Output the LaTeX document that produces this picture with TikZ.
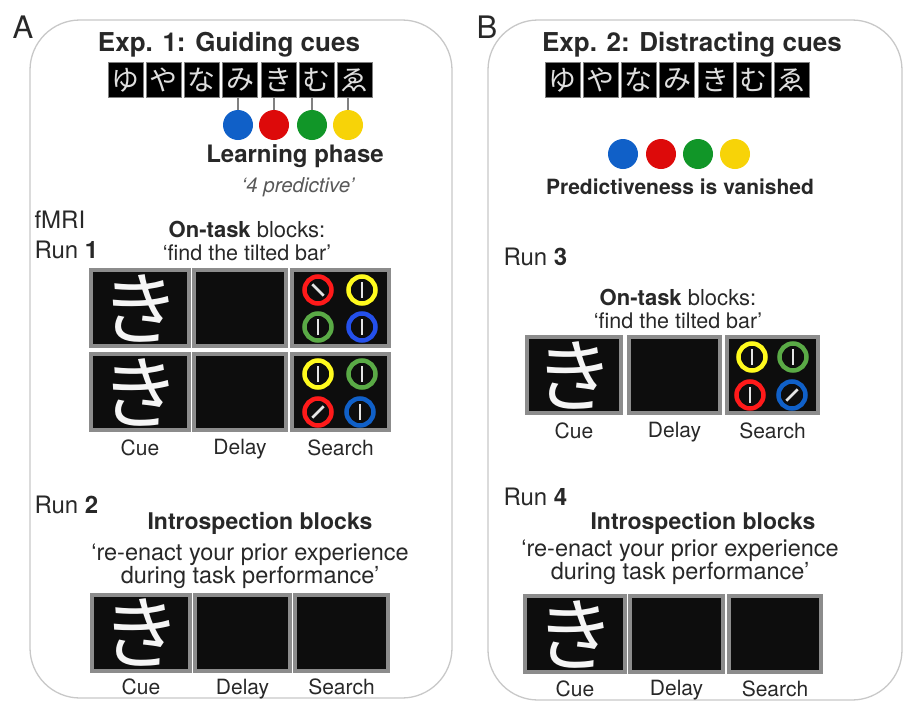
\documentclass[tikz,border=0pt]{standalone}
\usepackage{fontspec}
\setmainfont{TeX Gyre Heros}
\newfontfamily\jpfont{Noto Sans CJK JP}
\usetikzlibrary{positioning}
\definecolor{cblue}{RGB}{16,96,200}
\definecolor{cred}{RGB}{221,10,10}
\definecolor{cgreen}{RGB}{17,150,40}
\definecolor{cyellow}{RGB}{247,211,8}
\definecolor{rred}{RGB}{255,26,26}
\definecolor{ryellow}{RGB}{255,250,30}
\definecolor{rgreen}{RGB}{90,170,70}
\definecolor{rblue}{RGB}{36,80,235}
\definecolor{frame}{RGB}{140,140,140}
\definecolor{panel}{RGB}{200,200,200}
\definecolor{txt}{RGB}{40,40,40}

% one ring of the search display: x, y, colour, bar angle
\newcommand{\ring}[4]{%
  \draw[#3, line width=4.5pt] (#1,#2) circle (13.5);
  \draw[white!80!gray, line width=2.5pt] (#1,#2) ++(#4:8) -- ++(#4+180:16);
}

\begin{document}
\begin{tikzpicture}[x=1pt, y=-1pt,
    kana/.style={draw=gray, fill=black, text=white!75!gray, minimum size=35pt,
      inner sep=0pt, font=\jpfont\fontsize{28}{28}\selectfont},
    dot/.style={circle, minimum size=30pt, inner sep=0pt},
    block/.style={draw=frame, line width=4pt, fill=black!95, minimum height=76pt, inner sep=0pt},
    cuetext/.style={text=white!92!gray, font=\jpfont\fontsize{80}{80}\selectfont},
    lbl/.style={text=txt, font=\fontsize{21}{21}\selectfont},
    head/.style={text=txt, font=\fontsize{26}{26}\selectfont\bfseries}]
    \useasboundingbox (0,0) rectangle (905,702);

    % panels
    \draw[panel, line width=1.3pt, rounded corners=50pt] (30,20) rectangle (452,698);
    \draw[panel, line width=1.3pt, rounded corners=50pt] (488,20) rectangle (902,700);
    \node[text=txt, font=\fontsize{31}{31}\selectfont] (lA) at (23,27) {A};
    \node[text=txt, font=\fontsize{31}{31}\selectfont] (lB) at (487,27) {B};

    % ---- Exp. 1 ----
    \node[head] (t1) at (229,45) {Exp. 1: Guiding cues};
    \foreach \ch [count=\i] in {ゆ,や,な,み,き,む,ゑ}
        \node[kana] (ka\i) at (125.5+38.2*\i-38.2,80) {\ch};

    \node[dot, fill=cblue] (ca1) at (238,125) {};
    \node[dot, fill=cred] (ca2) at (274,125) {};
    \node[dot, fill=cgreen] (ca3) at (312,125) {};
    \node[dot, fill=cyellow] (ca4) at (348,125) {};
    \foreach \i/\j in {1/4,2/5,3/6,4/7}
        \draw[gray, line width=1.5pt] (ca\i.north) -- (ca\i.north |- ka\j.south);

    \node[text=txt, font=\fontsize{24}{24}\selectfont\bfseries] (learn) at (295,156) {Learning phase};
    \node[text=black!65, font=\fontsize{20.5}{20.5}\selectfont\itshape] (pred) at (298,187) {`4 predictive'};

    \node[text=txt, anchor=west, align=left, font=\fontsize{24}{30}\selectfont] (run1) at (31,235) {fMRI\\Run \textbf{1}};
    \node[text=txt, align=center, font=\fontsize{21.5}{23}\selectfont] (task1) at (247,241)
        {{\fontsize{22}{23}\selectfont\textbf{On-task} blocks:}\\`find the tilted bar'};

    \node[block, minimum width=98pt] (cue1) at (140,308) {};
    \node[cuetext] at (cue1) {き};
    \node[block, minimum width=92pt] (del1) at (240,308) {};
    \node[block, minimum width=97pt] (sea1) at (340.5,308) {};
    \ring{318}{290}{rred}{45}
    \ring{362}{290}{ryellow}{90}
    \ring{318}{327}{rgreen}{90}
    \ring{362}{327}{rblue}{90}

    \node[block, minimum width=98pt] (cue2) at (140,392) {};
    \node[cuetext] at (cue2) {き};
    \node[block, minimum width=92pt] (del2) at (240,392) {};
    \node[block, minimum width=97pt] (sea2) at (340.5,392) {};
    \ring{318}{374}{ryellow}{90}
    \ring{362}{374}{rgreen}{90}
    \ring{318}{412}{rred}{135}
    \ring{360}{412}{cblue}{90}

    \node[lbl, below=4pt of cue2] (lc1) {Cue};
    \node[lbl, below=4pt of del2] (ld1) {Delay};
    \node[lbl, below=4pt of sea2] (ls1) {Search};

    \node[text=txt, anchor=west, font=\fontsize{24}{24}\selectfont] (run2) at (31,505) {Run \textbf{2}};
    \node[text=txt, font=\fontsize{23}{23}\selectfont\bfseries] (intro1) at (260,523) {Introspection blocks};
    \node[text=txt, align=center, font=\fontsize{23.5}{22.5}\selectfont] (reen1) at (250,566)
        {`re-enact your prior experience\\during task performance'};

    \node[block, minimum width=98pt] (cue3) at (141,632.5) {};
    \node[cuetext] at (cue3) {き};
    \node[block, minimum width=95pt] (del3) at (242.5,632.5) {};
    \node[block, minimum width=93pt] (sea3) at (341.5,632.5) {};
    \node[lbl, below=3pt of cue3] (lc2) {Cue};
    \node[lbl, below=3pt of del3] (ld2) {Delay};
    \node[lbl, below=3pt of sea3] (ls2) {Search};

    % ---- Exp. 2 ----
    \node[head] (t2) at (692,45) {Exp. 2: Distracting cues};
    \foreach \ch [count=\i] in {ゆ,や,な,み,き,む,ゑ}
        \node[kana] (kb\i) at (562.5+38.2*\i-38.2,80) {\ch};

    \node[dot, fill=cblue] (cb1) at (623,154) {};
    \node[dot, fill=cred] (cb2) at (661,154) {};
    \node[dot, fill=cgreen] (cb3) at (698,154) {};
    \node[dot, fill=cyellow] (cb4) at (735,154) {};
    \node[text=txt, font=\fontsize{21}{21}\selectfont\bfseries] (vanish) at (680,187) {Predictiveness is vanished};

    \node[text=txt, anchor=west, font=\fontsize{24}{24}\selectfont] (run3) at (500,257) {Run \textbf{3}};
    \node[text=txt, align=center, font=\fontsize{21.5}{23}\selectfont] (task2) at (678,309)
        {{\fontsize{22}{23}\selectfont\textbf{On-task} blocks:}\\`find the tilted bar'};

    \node[block, minimum width=94pt] (cue4) at (574,375) {};
    \node[cuetext] at (cue4) {き};
    \node[block, minimum width=91pt] (del4) at (674.5,375) {};
    \node[block, minimum width=91pt] (sea4) at (772.5,375) {};
    \ring{752}{357}{ryellow}{90}
    \ring{793}{357}{rgreen}{90}
    \ring{750}{395}{rred}{90}
    \ring{792}{395}{cblue}{135}
    \node[lbl, below=4pt of cue4] (lc3) {Cue};
    \node[lbl, below=4pt of del4] (ld3) {Delay};
    \node[lbl, below=4pt of sea4] (ls3) {Search};

    \node[text=txt, anchor=west, font=\fontsize{24}{24}\selectfont] (run4) at (500,497) {Run \textbf{4}};
    \node[text=txt, font=\fontsize{23}{23}\selectfont\bfseries] (intro2) at (703,523) {Introspection blocks};
    \node[text=txt, align=center, font=\fontsize{23.5}{22.5}\selectfont] (reen2) at (680,562)
        {`re-enact your prior experience\\during task performance'};

    \node[block, minimum width=100pt] (cue5) at (575,634) {};
    \node[cuetext] at (cue5) {き};
    \node[block, minimum width=93pt] (del5) at (676.5,634) {};
    \node[block, minimum width=92pt] (sea5) at (775,634) {};
    \node[lbl, below=3pt of cue5] (lc4) {Cue};
    \node[lbl, below=3pt of del5] (ld4) {Delay};
    \node[lbl, below=3pt of sea5] (ls4) {Search};
\end{tikzpicture}
\end{document}
